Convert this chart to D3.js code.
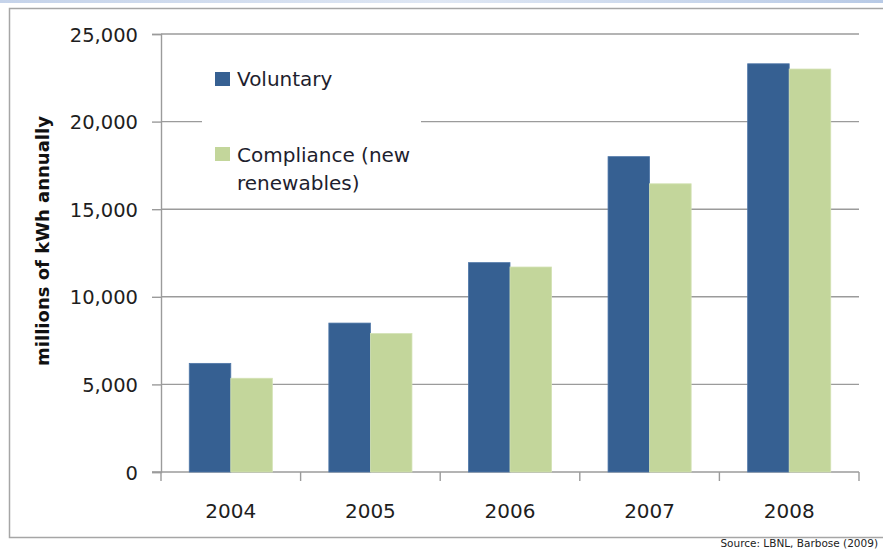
<!DOCTYPE html>
<html>
<head>
<meta charset="utf-8">
<script src="https://cdn.jsdelivr.net/npm/d3@7"></script>
<style>
  html, body { margin: 0; padding: 0; background: #fff; }
  svg { display: block; }
</style>
</head>
<body>
<div id="chart"></div>
<script>
/* ── Data ─────────────────────────────────────────────── */
const YEARS      = ['2004', '2005', '2006', '2007', '2008'];
const SERIES     = ['Voluntary', 'Compliance'];
const VOLUNTARY  = [6200, 8500, 11950, 18000, 23300];
const COMPLIANCE = [5350, 7900, 11700, 16450, 23000];
const Y_TICKS    = [0, 5000, 10000, 15000, 20000, 25000];

const COLORS = { Voluntary: '#366092', Compliance: '#c3d69b' };
const FONT   = 'DejaVu Sans, sans-serif';

/* ── Layout ───────────────────────────────────────────── */
const W = 883, H = 550;
const X0 = 161, X1 = 859, Y0 = 472, Y1 = 34;

const svg = d3.select('#chart').append('svg')
  .attr('width', W).attr('height', H)
  .attr('viewBox', `0 0 ${W} ${H}`);

// slide header strip + frame
const grad = svg.append('defs').append('linearGradient')
  .attr('id', 'hdr').attr('x1', 0).attr('x2', 1);
grad.append('stop').attr('offset', 0).attr('stop-color', '#c5d3ea');
grad.append('stop').attr('offset', 0.5).attr('stop-color', '#dfe7f4');
grad.append('stop').attr('offset', 1).attr('stop-color', '#b8cae6');
svg.append('rect').attr('x', 0).attr('y', 0).attr('width', W).attr('height', 3)
  .attr('fill', 'url(#hdr)');

svg.append('path')
  .attr('d', `M ${W + 2} 8.5 H 9.5 V 537.5 H ${W + 2}`)
  .attr('fill', 'none').attr('stroke', '#a6a6a6').attr('stroke-width', 1.5);

/* ── Scales ───────────────────────────────────────────── */
const x = d3.scaleBand().domain(YEARS).range([X0, X1]).padding(0);
const xs = d3.scaleBand().domain(SERIES).range([0, x.bandwidth()])
  .paddingInner(0).paddingOuter(0.68);
const y = d3.scaleLinear().domain([0, 25000]).range([Y0, Y1]);

/* ── Gridlines ────────────────────────────────────────── */
svg.append('g').selectAll('line')
  .data(Y_TICKS.filter(d => d > 0))
  .join('line')
  .attr('x1', X0).attr('x2', X1)
  .attr('y1', d => y(d)).attr('y2', d => y(d))
  .attr('stroke', '#9b9b9b').attr('stroke-width', 1.4);

/* ── Y axis ───────────────────────────────────────────── */
const yAxis = svg.append('g')
  .attr('transform', `translate(${X0},0)`)
  .call(d3.axisLeft(y).tickValues(Y_TICKS).tickSize(9).tickPadding(14)
    .tickFormat(d3.format(',')));
yAxis.select('.domain').attr('stroke', '#9b9b9b').attr('stroke-width', 1.4);
yAxis.selectAll('.tick line').attr('stroke', '#9b9b9b').attr('stroke-width', 1.4);
yAxis.selectAll('.tick text')
  .attr('font-family', FONT).attr('font-size', 19.5).attr('fill', '#1e1e1e')
  .attr('dy', '0.36em');

/* ── X axis ───────────────────────────────────────────── */
const xAxis = svg.append('g');
xAxis.append('line')
  .attr('x1', X0 - 9).attr('x2', X1)
  .attr('y1', Y0).attr('y2', Y0)
  .attr('stroke', '#9b9b9b').attr('stroke-width', 1.4);
xAxis.selectAll('.xtick')
  .data([...YEARS.map(d => x(d)), X1])
  .join('line')
  .attr('class', 'xtick')
  .attr('x1', d => d).attr('x2', d => d)
  .attr('y1', Y0).attr('y2', Y0 + 9)
  .attr('stroke', '#9b9b9b').attr('stroke-width', 1.4);
xAxis.selectAll('text')
  .data(YEARS)
  .join('text')
  .attr('x', d => x(d) + x.bandwidth() / 2)
  .attr('y', 518)
  .attr('text-anchor', 'middle')
  .attr('font-family', FONT).attr('font-size', 20).attr('fill', '#1e1e1e')
  .text(d => d);

/* ── Bars ─────────────────────────────────────────────── */
const rows = YEARS.map((yr, i) => ({ yr, Voluntary: VOLUNTARY[i], Compliance: COMPLIANCE[i] }));

svg.append('g').selectAll('g')
  .data(rows)
  .join('g')
  .attr('transform', d => `translate(${x(d.yr)},0)`)
  .selectAll('rect')
  .data(d => SERIES.map(s => ({ s, v: d[s] })))
  .join('rect')
  .attr('x', d => xs(d.s))
  .attr('width', xs.bandwidth())
  .attr('y', d => y(d.v))
  .attr('height', d => y(0) - y(d.v))
  .attr('fill', d => COLORS[d.s])
  .attr('stroke', d => d.s === 'Voluntary' ? '#4f77a8' : '#d3e2b4')
  .attr('stroke-width', 0.8);

/* ── Legend ───────────────────────────────────────────── */
const lg = svg.append('g');
lg.append('rect').attr('x', 202).attr('y', 52).attr('width', 219).attr('height', 148)
  .attr('fill', '#fff');

lg.append('rect').attr('x', 215).attr('y', 72).attr('width', 15).attr('height', 14)
  .attr('fill', COLORS.Voluntary);
lg.append('text').attr('x', 237).attr('y', 86)
  .attr('font-family', FONT).attr('font-size', 20).attr('fill', '#1e1e2e')
  .text('Voluntary');

lg.append('rect').attr('x', 215).attr('y', 147).attr('width', 15).attr('height', 14)
  .attr('fill', COLORS.Compliance);
lg.append('text').attr('x', 237).attr('y', 162)
  .attr('font-family', FONT).attr('font-size', 20).attr('fill', '#1e1e2e')
  .text('Compliance (new');
lg.append('text').attr('x', 237).attr('y', 190)
  .attr('font-family', FONT).attr('font-size', 20).attr('fill', '#1e1e2e')
  .text('renewables)');

/* ── Axis title + source ──────────────────────────────── */
svg.append('text')
  .attr('transform', 'translate(49,241) rotate(-90)')
  .attr('text-anchor', 'middle')
  .attr('font-family', FONT).attr('font-size', 18).attr('font-weight', 'bold')
  .attr('fill', '#111')
  .text('millions of kWh annually');

svg.append('text')
  .attr('x', 878).attr('y', 546.5)
  .attr('text-anchor', 'end')
  .attr('font-family', FONT).attr('font-size', 10.5).attr('fill', '#222')
  .text('Source: LBNL, Barbose (2009)');
</script>
</body>
</html>
